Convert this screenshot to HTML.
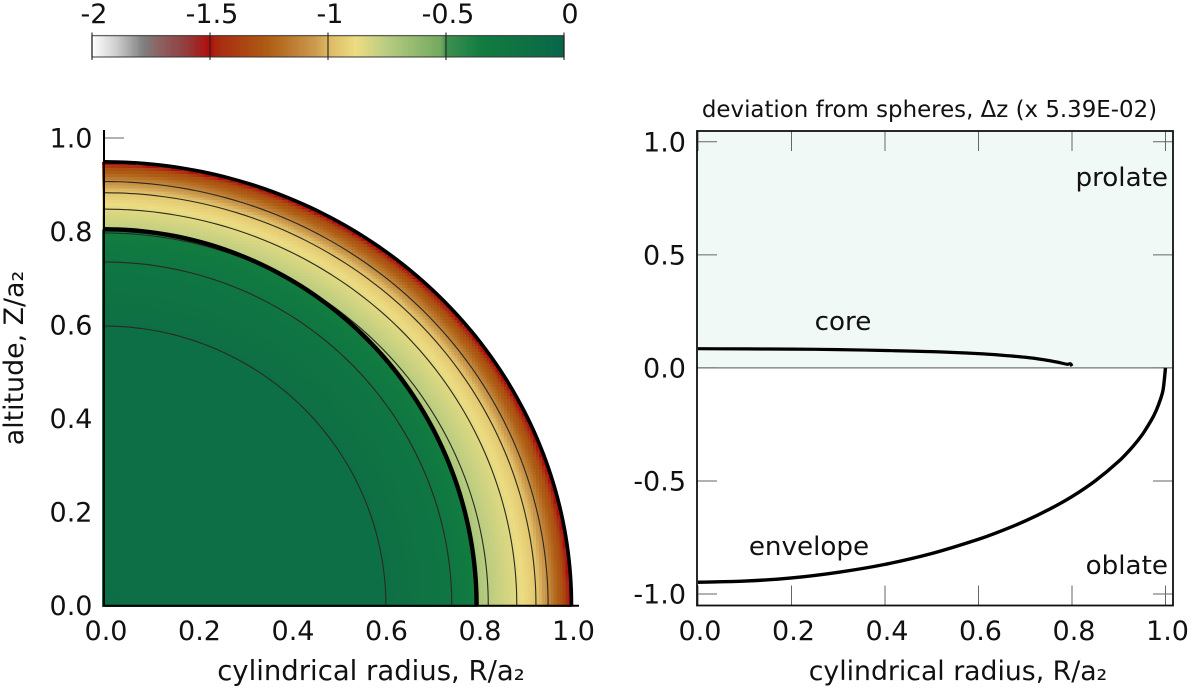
<!DOCTYPE html>
<html>
<head>
<meta charset="utf-8">
<title>Deviation from spheres</title>
<style>
html,body{margin:0;padding:0;background:#fff;}
svg{display:block;}
text{font-family:"DejaVu Sans","Liberation Sans",sans-serif;fill:#111;}
</style>
</head>
<body>
<svg id="figure" xmlns="http://www.w3.org/2000/svg" width="1200" height="690" viewBox="0 0 1200 690" shape-rendering="geometricPrecision"></svg>
<script>
// ---------- data ----------
const colorStopValues = [-2, -1.9, -1.78, -1.72, -1.6, -1.5, -1.47, -1.25, -1.05, -1, -0.88, -0.75, -0.52, -0.5, -0.35, -0.15, 0];
const colorStopColors = ['#ffffff', '#d0d0d0', '#7e7e7e', '#8c6464', '#923c3c', '#b00c0c', '#a82a10', '#ae5e14', '#cc9c50', '#dcb862', '#ecdc82', '#b8cc80', '#72a860', '#3f9050', '#117c40', '#0e7044', '#07664c'];
const colorbarTicks = [-2, -1.5, -1, -0.5, 0];
const colorbarTickLabels = ['-2', '-1.5', '-1', '-0.5', '0'];

const levelR = [0.001, 0.603, 0.744, 0.797, 0.799, 0.822, 0.883, 0.924, 0.950, 0.982, 0.993, 0.999];
const levelZ = [0.001, 0.598, 0.735, 0.805, 0.807, 0.797, 0.848, 0.883, 0.907, 0.936, 0.944, 0.948];
const levelValue = [-0.03, -0.13, -0.24, -0.36, -0.70, -0.75, -0.85, -0.95, -1.10, -1.32, -1.50, -1.52];

const contourR = [0.603, 0.744, 0.822, 0.883, 0.924, 0.950];
const contourZ = [0.598, 0.735, 0.797, 0.848, 0.883, 0.907];
const coreSemiAxes = [0.797, 0.805];
const surfaceSemiAxes = [1.0, 0.949];

const leftTicks = [0, 0.2, 0.4, 0.6, 0.8, 1.0];
const leftTickLabels = ['0.0', '0.2', '0.4', '0.6', '0.8', '1.0'];
const rightXTicks = [0, 0.2, 0.4, 0.6, 0.8, 1.0];
const rightXTickLabels = ['0.0', '0.2', '0.4', '0.6', '0.8', '1.0'];
const rightYTicks = [-1, -0.5, 0, 0.5, 1];
const rightYTickLabels = ['-1.0', '-0.5', '0.0', '0.5', '1.0'];

const coreRadius = [0, 0.1, 0.2, 0.3, 0.4, 0.5, 0.6, 0.65, 0.7, 0.74, 0.77, 0.79, 0.797, 0.8];
const coreDeviation = [0.085, 0.084, 0.083, 0.081, 0.077, 0.072, 0.063, 0.056, 0.047, 0.036, 0.025, 0.016, 0.018, 0.008];
const envelopeRadius = [0, 0.1, 0.2, 0.3, 0.4, 0.5, 0.6, 0.65, 0.7, 0.75, 0.8, 0.85, 0.9, 0.93, 0.95, 0.97, 0.98, 0.99, 0.995, 1.0];
const envelopeDeviation = [-0.948, -0.943, -0.929, -0.904, -0.869, -0.821, -0.758, -0.720, -0.677, -0.627, -0.569, -0.499, -0.413, -0.348, -0.296, -0.230, -0.189, -0.134, -0.095, 0];

// ---------- helpers ----------
const svg = document.getElementById('figure');
const NS = 'http://www.w3.org/2000/svg';
function make(tag, attrs, parent) {
  const el = document.createElementNS(NS, tag);
  for (const k in attrs) el.setAttribute(k, attrs[k]);
  (parent || svg).appendChild(el);
  return el;
}
function hexToRgb(h) {
  return [parseInt(h.slice(1, 3), 16), parseInt(h.slice(3, 5), 16), parseInt(h.slice(5, 7), 16)];
}
function colorFor(v) {
  const n = colorStopValues.length;
  if (v <= colorStopValues[0]) return colorStopColors[0];
  if (v >= colorStopValues[n - 1]) return colorStopColors[n - 1];
  for (let i = 0; i < n - 1; i++) {
    if (v <= colorStopValues[i + 1]) {
      const f = (v - colorStopValues[i]) / (colorStopValues[i + 1] - colorStopValues[i]);
      const a = hexToRgb(colorStopColors[i]);
      const b = hexToRgb(colorStopColors[i + 1]);
      return 'rgb(' + a.map((c, j) => Math.round(c + (b[j] - c) * f)).join(',') + ')';
    }
  }
}
function fieldValue(r, z) {
  const n = levelR.length;
  let prev = Math.hypot(r / levelR[0], z / levelZ[0]);
  if (prev <= 1) return levelValue[0];
  for (let i = 1; i < n; i++) {
    const q = Math.hypot(r / levelR[i], z / levelZ[i]);
    if (q <= 1) {
      const f = (prev - 1) / (prev - q);
      return levelValue[i - 1] + (levelValue[i] - levelValue[i - 1]) * f;
    }
    prev = q;
  }
  return null;
}
// smooth curve with chord-length tangents, safe for unevenly spaced points
function smoothPath(xs, ys) {
  const n = xs.length;
  const seg = [];
  for (let i = 0; i < n - 1; i++) seg.push(Math.hypot(xs[i + 1] - xs[i], ys[i + 1] - ys[i]) || 0.001);
  const mx = [], my = [];
  for (let i = 0; i < n; i++) {
    const a = Math.max(i - 1, 0), b = Math.min(i + 1, n - 1);
    let len = 0;
    for (let j = a; j < b; j++) len += seg[j];
    mx.push((xs[b] - xs[a]) / len);
    my.push((ys[b] - ys[a]) / len);
  }
  let d = 'M' + xs[0].toFixed(2) + ' ' + ys[0].toFixed(2);
  for (let i = 0; i < n - 1; i++) {
    const h = seg[i] / 3;
    d += 'C' + (xs[i] + mx[i] * h).toFixed(2) + ' ' + (ys[i] + my[i] * h).toFixed(2) + ' ' +
      (xs[i + 1] - mx[i + 1] * h).toFixed(2) + ' ' + (ys[i + 1] - my[i + 1] * h).toFixed(2) + ' ' +
      xs[i + 1].toFixed(2) + ' ' + ys[i + 1].toFixed(2);
  }
  return d;
}

// ---------- axis functions ----------
const cbarX = v => 92 + (v + 2) * 236;
const leftX = r => 104 + r * 467.5;
const leftY = z => 605.7 - z * 467.7;
const rightX = r => 698 + r * 467.5;
const rightY = d => 367.9 - d * 226.1;
function arcPath(a, b) {
  const xs = [], ys = [];
  for (let i = 0; i <= 90; i += 2) {
    const t = i * Math.PI / 180;
    xs.push(leftX(a * Math.cos(t)));
    ys.push(leftY(b * Math.sin(t)));
  }
  return smoothPath(xs, ys);
}

// ---------- colour bar ----------
const cbarGroup = make('g', {});


for (let v = -2; v < 0; v += 0.01) {
  const cell = make('rect', { x: cbarX(v).toFixed(2), y: 35.6, width: 2.8, height: 21.4, fill: colorFor(v + 0.005), 'shape-rendering': 'crispEdges' }, cbarGroup);
  
  
}
const cbarFrame = make('rect', { x: cbarX(-2), y: 35.6, width: cbarX(0) - cbarX(-2), height: 21.4, fill: 'none', stroke: '#333', 'stroke-width': 1.3, 'stroke-opacity': 0.75 }, cbarGroup);


colorbarTicks.forEach((v, i) => {
  const t = make('line', { x1: cbarX(v), x2: cbarX(v), y1: 32.5, y2: 60, stroke: '#222', 'stroke-width': 1.1 }, cbarGroup);
  
  
  const l = make('text', { x: cbarX(v) + (v === 0 ? 6 : 2), y: 23, 'text-anchor': 'middle', 'font-size': 27 }, cbarGroup);
  l.textContent = colorbarTickLabels[i];
  
  
});

// ---------- left panel ----------
const leftPanel = make('g', {});


leftTicks.forEach((v, i) => {
  const ty = make('line', { x1: leftX(0), x2: leftX(0) + 20, y1: leftY(v), y2: leftY(v), stroke: '#666', 'stroke-width': 1 }, leftPanel);
  
  
  const ly = make('text', { x: 92.5, y: leftY(v) + 9.5, 'text-anchor': 'end', 'font-size': 27 }, leftPanel);
  ly.textContent = leftTickLabels[i];
  
  
  const lx = make('text', { x: leftX(v) + 2, y: 640, 'text-anchor': 'middle', 'font-size': 27 }, leftPanel);
  lx.textContent = leftTickLabels[i];
  
  
});

// heat field, drawn cell by cell with row run-length merging
const heat = make('g', { 'shape-rendering': 'crispEdges' }, leftPanel);


const cellSize = 2.92;
const cellCount = 162;
for (let row = 0; row < cellCount; row++) {
  const z = (row + 0.5) * cellSize / 467.7;
  let runStart = -1, runColor = null;
  for (let col = 0; col <= cellCount; col++) {
    const r = (col + 0.5) * cellSize / 467.5;
    const v = col < cellCount ? fieldValue(r, z) : null;
    const c = v === null ? null : colorFor(v);
    if (c !== runColor) {
      if (runColor !== null) {
        const startX = runStart === 0 ? leftX(0) - 2 : leftX(runStart * cellSize / 467.5);
        const cell = make('rect', {
          x: startX.toFixed(2),
          y: (leftY((row + 1) * cellSize / 467.7)).toFixed(2),
          width: (leftX(col * cellSize / 467.5) - startX + 0.4).toFixed(2),
          height: (cellSize + (row === 0 ? 1.2 : 0.4)).toFixed(2),
          fill: runColor
        }, heat);
        
        
      }
      runStart = col;
      runColor = c;
    }
  }
}

contourR.forEach((a, i) => {
  const c = make('path', { d: arcPath(a, contourZ[i]), fill: 'none', stroke: '#2a2a1e', 'stroke-width': 1.1 }, leftPanel);
  
  
});
const coreLine = make('path', { d: arcPath(coreSemiAxes[0], coreSemiAxes[1]), fill: 'none', stroke: '#000', 'stroke-width': 4.4 }, leftPanel);


const surfaceLine = make('path', { d: arcPath(surfaceSemiAxes[0], surfaceSemiAxes[1]), fill: 'none', stroke: '#000', 'stroke-width': 3.6 }, leftPanel);



const leftAxisY = make('line', { x1: leftX(0), x2: leftX(0), y1: 130, y2: 606.5, stroke: '#000', 'stroke-width': 2 }, leftPanel);


const leftAxisX = make('line', { x1: leftX(0), x2: 579, y1: 605.7, y2: 605.7, stroke: '#000', 'stroke-width': 2 }, leftPanel);



const leftXTitle = make('text', { x: 371, y: 680, 'text-anchor': 'middle', 'font-size': 27.5 }, leftPanel);
leftXTitle.textContent = 'cylindrical radius, R/a\u2082';


const leftYTitle = make('text', { x: 0, y: 0, transform: 'translate(23 358) rotate(-90)', 'text-anchor': 'middle', 'font-size': 26.8 }, leftPanel);
leftYTitle.textContent = 'altitude, Z/a\u2082';



// ---------- right panel ----------
const rightPanel = make('g', {});


const frameLeft = 697, frameRight = 1173, frameTop = 131, frameBottom = 605.5;
const prolateBg = make('rect', { x: frameLeft, y: frameTop, width: frameRight - frameLeft, height: rightY(0) - frameTop, fill: '#f1f9f6' }, rightPanel);


rightXTicks.forEach((v, i) => {
  const top = make('line', { x1: rightX(v), x2: rightX(v), y1: frameTop, y2: frameTop + 20, stroke: '#666', 'stroke-width': 1 }, rightPanel);
  
  
  const bottom = make('line', { x1: rightX(v), x2: rightX(v), y1: frameBottom - 20, y2: frameBottom, stroke: '#666', 'stroke-width': 1 }, rightPanel);
  
  
  const l = make('text', { x: rightX(v) + 2, y: 640, 'text-anchor': 'middle', 'font-size': 27 }, rightPanel);
  l.textContent = rightXTickLabels[i];
  
  
});
rightYTicks.forEach((v, i) => {
  const a = make('line', { x1: frameLeft, x2: frameLeft + 20, y1: rightY(v), y2: rightY(v), stroke: '#666', 'stroke-width': 1 }, rightPanel);
  
  
  const b = make('line', { x1: frameRight - 20, x2: frameRight, y1: rightY(v), y2: rightY(v), stroke: '#666', 'stroke-width': 1 }, rightPanel);
  
  
  const l = make('text', { x: 686, y: rightY(v) + 9.5, 'text-anchor': 'end', 'font-size': 27 }, rightPanel);
  l.textContent = rightYTickLabels[i];
  
  
});
const zeroLine = make('line', { x1: frameLeft, x2: frameRight, y1: rightY(0), y2: rightY(0), stroke: '#777', 'stroke-width': 1.2 }, rightPanel);


const coreCurve = make('path', { d: smoothPath(coreRadius.map(rightX), coreDeviation.map(rightY)), fill: 'none', stroke: '#000', 'stroke-width': 3.2 }, rightPanel);


const envelopeCurve = make('path', { d: smoothPath(envelopeRadius.map(rightX), envelopeDeviation.map(rightY)), fill: 'none', stroke: '#000', 'stroke-width': 3.4 }, rightPanel);


const rightFrame = make('rect', { x: frameLeft, y: frameTop, width: frameRight - frameLeft, height: frameBottom - frameTop, fill: 'none', stroke: '#111', 'stroke-width': 1.8 }, rightPanel);



const rightTitle = make('text', { x: 929.5, y: 117, 'text-anchor': 'middle', 'font-size': 22.9 }, rightPanel);
rightTitle.textContent = 'deviation from spheres, \u0394z (x 5.39E-02)';


const rightXTitle = make('text', { x: 958, y: 680, 'text-anchor': 'middle', 'font-size': 26.7 }, rightPanel);
rightXTitle.textContent = 'cylindrical radius, R/a\u2082';



const prolateLabel = make('text', { x: 1168, y: 186, 'text-anchor': 'end', 'font-size': 26.2 }, rightPanel);
prolateLabel.textContent = 'prolate';


const oblateLabel = make('text', { x: 1168, y: 574, 'text-anchor': 'end', 'font-size': 26.2 }, rightPanel);
oblateLabel.textContent = 'oblate';


const coreLabel = make('text', { x: 843, y: 330, 'text-anchor': 'middle', 'font-size': 26.2 }, rightPanel);
coreLabel.textContent = 'core';


const envelopeLabel = make('text', { x: 809, y: 555, 'text-anchor': 'middle', 'font-size': 26.2 }, rightPanel);
envelopeLabel.textContent = 'envelope';


</script>
</body>
</html>
